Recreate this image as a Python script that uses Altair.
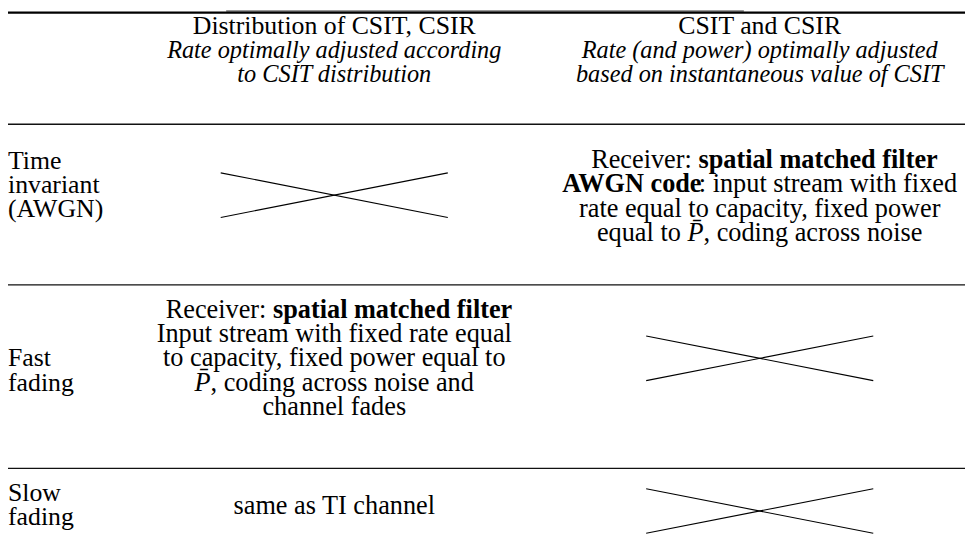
import altair as alt
import pandas as pd

# ---------------- data ----------------
col_titles = ["Distribution of CSIT, CSIR", "CSIT and CSIR"]
col_notes = [
    ["Rate optimally adjusted according", "to CSIT distribution"],
    ["Rate (and power) optimally adjusted", "based on instantaneous value of CSIT"],
]
row_labels = [
    ["Time", "invariant", "(AWGN)"],
    ["Fast", "fading"],
    ["Slow", "fading"],
]
R, B, I = "regular", "bold", "italic"
PBAR = "P\u0304"
# each cell: list of lines, each line a list of (text, style) segments; None = crossed out
cells = [
    [None,
     [[("Receiver: ", R), ("spatial matched filter", B)],
      [("AWGN code", B), (": input stream with fixed", R)],
      [("rate equal to capacity, fixed power", R)],
      [("equal to ", R), (PBAR, I), (", coding across noise", R)]]],
    [[[("Receiver: ", R), ("spatial matched filter", B)],
      [("Input stream with fixed rate equal", R)],
      [("to capacity, fixed power equal to", R)],
      [(PBAR, I), (", coding across noise and", R)],
      [("channel fades", R)]],
     None],
    [[[("same as TI channel", R)]],
     None],
]

# ---------------- layout / style ----------------
FONT = "Liberation Serif"
FS_BODY = 26.5
FS_HEAD = 26
FS_NOTE = 24.5
FS_LABEL = 26
LH = 24.5
X0, X1 = 8, 973          # page-pixel domain shown by the chart
Y0, Y1 = 8, 539
LABEL_X = 8
COL_CX = [337, 766]
HEAD_Y = [24, 49, 73]
TOP_RULE_Y = 10.5
RULES_Y = [123, 285, 470]
ROW_MID = [196, 359, 508]
LABEL_TOP = [160, 359, 495]
CROSS_MID = [194.5, 359, 513]
CROSS_HW, CROSS_HH = 114.5, 22.5
GRAY_X = (228, 750)

# approximate Times-metric character widths (per 1000 em)
W_REG = {" ": 250, "(": 333, ")": 333, ",": 250, ":": 278, ".": 250,
         "A": 722, "C": 667, "D": 722, "G": 722, "I": 333, "N": 722, "P": 556,
         "R": 667, "S": 556, "T": 611, "W": 944,
         "a": 444, "b": 500, "c": 444, "d": 500, "e": 444, "f": 333, "g": 500,
         "h": 500, "i": 278, "j": 278, "l": 278, "m": 778, "n": 500, "o": 500,
         "p": 500, "q": 500, "r": 333, "s": 389, "t": 278, "u": 500, "v": 500,
         "w": 722, "x": 500, "y": 500, "z": 444}
W_BOLD = {" ": 250, ":": 333, "A": 722, "W": 1000, "G": 778, "N": 722, "C": 722,
          "a": 500, "c": 444, "d": 556, "e": 444, "f": 333, "h": 556, "i": 278,
          "l": 278, "m": 833, "o": 500, "p": 556, "r": 444, "s": 389, "t": 333}
W_ITAL = {"P": 611}


def seg_width(text, style, fs):
    table = W_BOLD if style == B else (W_ITAL if style == I else W_REG)
    total = 0
    for ch in text:
        if "\u0300" <= ch <= "\u036f":
            continue
        total += table.get(ch, W_REG.get(ch, 500))
    factor = 0.96 if style == B else 1.0
    return total / 1000 * fs * factor


texts = []


def add_line(segs, cx, y, role):
    if len(segs) == 1:
        texts.append(dict(x=cx, y=y, text=segs[0][0], style=segs[0][1], align="center", role=role))
        return
    fs = FS_BODY
    widths = [seg_width(t, s, fs) for t, s in segs]
    x = cx - sum(widths) / 2
    for (t, s), w in zip(segs, widths):
        texts.append(dict(x=x, y=y, text=t, style=s, align="left", role=role))
        x += w


# header
for c in range(2):
    add_line([(col_titles[c], R)], COL_CX[c], HEAD_Y[0], "head")
    for k, note in enumerate(col_notes[c]):
        add_line([(note, I)], COL_CX[c], HEAD_Y[1 + k], "note")

# row labels
for r, lab in enumerate(row_labels):
    for k, t in enumerate(lab):
        texts.append(dict(x=LABEL_X, y=LABEL_TOP[r] + k * LH, text=t, style=R, align="left", role="label"))

# cells
crosses = []
for r in range(3):
    for c in range(2):
        content = cells[r][c]
        if content is None:
            cx, cy = COL_CX[c], CROSS_MID[r]
            crosses.append(dict(x=cx - CROSS_HW, y=cy - CROSS_HH, x2=cx + CROSS_HW, y2=cy + CROSS_HH))
            crosses.append(dict(x=cx - CROSS_HW, y=cy + CROSS_HH, x2=cx + CROSS_HW, y2=cy - CROSS_HH))
            continue
        n = len(content)
        top = ROW_MID[r] - (n - 1) / 2 * LH
        for k, segs in enumerate(content):
            add_line(segs, COL_CX[c], top + k * LH, "body")

tdf = pd.DataFrame(texts)
xs = alt.Scale(domain=[X0, X1], nice=False, zero=False)
ys = alt.Scale(domain=[Y0, Y1], nice=False, zero=False, reverse=True)
X = lambda f: alt.X(f, type="quantitative", scale=xs, axis=None)
Y = lambda f: alt.Y(f, type="quantitative", scale=ys, axis=None)

layers = []

# gray tab at the top
gray_df = pd.DataFrame([dict(x=GRAY_X[0], x2=GRAY_X[1], y=Y0, y2=Y0 + 1.5)])
layers.append(alt.Chart(gray_df).mark_rect(color="#777777").encode(
    x=X("x"), x2="x2", y=Y("y"), y2="y2"))

# top thick rule
top_df = pd.DataFrame([dict(x=X0, x2=X1, y=TOP_RULE_Y)])
layers.append(alt.Chart(top_df).mark_rule(color="black", strokeWidth=2.2).encode(
    x=X("x"), x2="x2", y=Y("y")))

# thin rules
rules_df = pd.DataFrame([dict(x=X0, x2=X1, y=v) for v in RULES_Y])
layers.append(alt.Chart(rules_df).mark_rule(color="#111111", strokeWidth=1.4).encode(
    x=X("x"), x2="x2", y=Y("y")))

# crosses
cdf = pd.DataFrame(crosses)
layers.append(alt.Chart(cdf).mark_rule(color="black", strokeWidth=1.1).encode(
    x=X("x"), x2="x2", y=Y("y"), y2="y2"))

ROLE_FS = {"head": FS_HEAD, "note": FS_NOTE, "label": FS_LABEL, "body": FS_BODY}
for role, fs in ROLE_FS.items():
    for style in (R, B, I):
        for align in ("left", "center"):
            sub = tdf[(tdf["role"] == role) & (tdf["style"] == style) & (tdf["align"] == align)]
            if sub.empty:
                continue
            kw = dict(font=FONT, fontSize=fs, align=align, baseline="middle", color="black")
            if style == B:
                kw["fontWeight"] = "bold"
            if style == I:
                kw["fontStyle"] = "italic"
            layers.append(alt.Chart(sub).mark_text(**kw).encode(
                x=X("x"), y=Y("y"), text="text:N"))

chart = alt.layer(*layers).properties(
    width=X1 - X0, height=Y1 - Y0, padding=0, background="white",
    autosize=alt.AutoSizeParams(type="none"),
).configure_view(strokeWidth=0)

chart.save("out.html", embed_options={"renderer": "svg", "actions": False})
